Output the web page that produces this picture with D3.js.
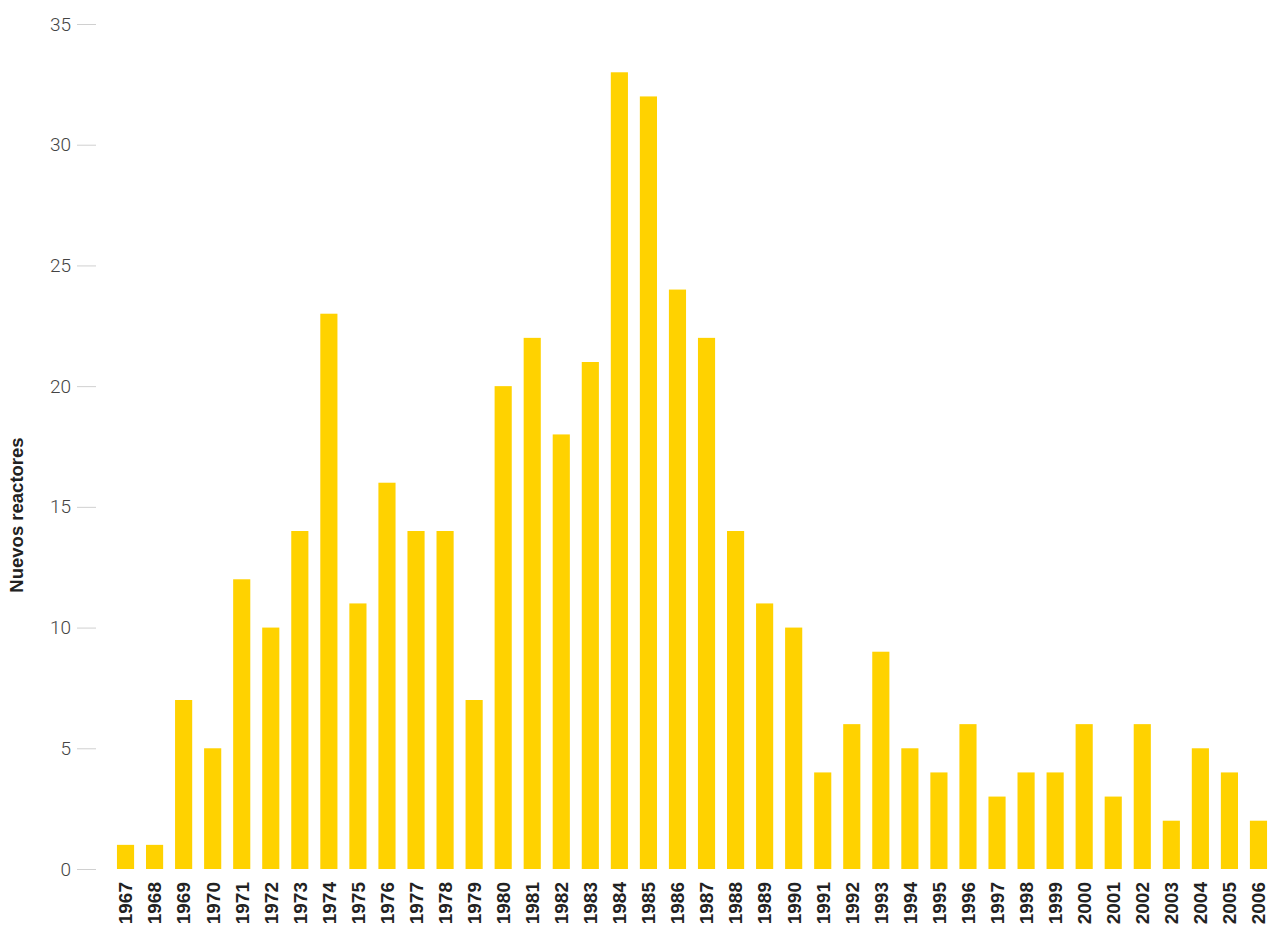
<!DOCTYPE html>
<html>
<head>
<meta charset="utf-8">
<script src="https://cdn.jsdelivr.net/npm/d3@7"></script>
<style>
  body { margin: 0; background: #fff; }
  svg { display: block; font-family: "Liberation Sans", Arial, sans-serif; }
</style>
</head>
<body>
<script>
const years = [1967,1968,1969,1970,1971,1972,1973,1974,1975,1976,1977,1978,1979,1980,1981,1982,1983,1984,1985,1986,1987,1988,1989,1990,1991,1992,1993,1994,1995,1996,1997,1998,1999,2000,2001,2002,2003,2004,2005,2006];
const reactors = [1,1,7,5,12,10,14,23,11,16,14,14,7,20,22,18,21,33,32,24,22,14,11,10,4,6,9,5,4,6,3,4,4,6,3,6,2,5,4,2];
const yTicks = [0,5,10,15,20,25,30,35];

const width = 1269, height = 932;
const svg = d3.select("body").append("svg")
  .attr("width", width).attr("height", height);

const x = d3.scaleBand()
  .domain(years)
  .range([111, 1273])
  .paddingInner(0.41)
  .paddingOuter(0.205);

const y = d3.scaleLinear()
  .domain([0, 35])
  .range([869, 24]);

// y axis
const yAxis = svg.append("g").attr("transform", "translate(96,0)")
  .call(d3.axisLeft(y).tickValues(yTicks).tickSize(19).tickPadding(6));
yAxis.select(".domain").remove();
yAxis.selectAll(".tick line").attr("stroke", "#d0d0d0");
yAxis.selectAll(".tick text")
  .attr("fill", "#444")
  .style("font-size", "19px")
  .style("font-weight", "300")
  .style("font-family", "Roboto, 'Liberation Sans', Arial, sans-serif");

svg.append("text")
  .attr("transform", "translate(23,515) rotate(-90)")
  .attr("text-anchor", "middle")
  .attr("fill", "#222")
  .style("font-size", "18.5px")
  .style("font-weight", "bold")
  .text("Nuevos reactores");

// bars
svg.selectAll("rect.bar")
  .data(years)
  .enter()
  .append("rect")
  .attr("class", "bar")
  .attr("x", d => x(d))
  .attr("width", x.bandwidth())
  .attr("y", (d, i) => y(reactors[i]))
  .attr("height", (d, i) => y(0) - y(reactors[i]))
  .attr("fill", "#ffd200");

// x axis labels
const xAxis = svg.append("g").attr("transform", "translate(0,869)")
  .call(d3.axisBottom(x).tickSize(0));
xAxis.select(".domain").remove();
xAxis.selectAll(".tick text")
  .attr("transform", "rotate(-90)")
  .attr("x", -13)
  .attr("y", 0)
  .attr("dy", "0.36em")
  .attr("text-anchor", "end")
  .attr("fill", "#222")
  .style("font-size", "19px")
  .style("font-weight", "bold")
  .style("font-family", "'Liberation Sans', Arial, sans-serif");
</script>
</body>
</html>
